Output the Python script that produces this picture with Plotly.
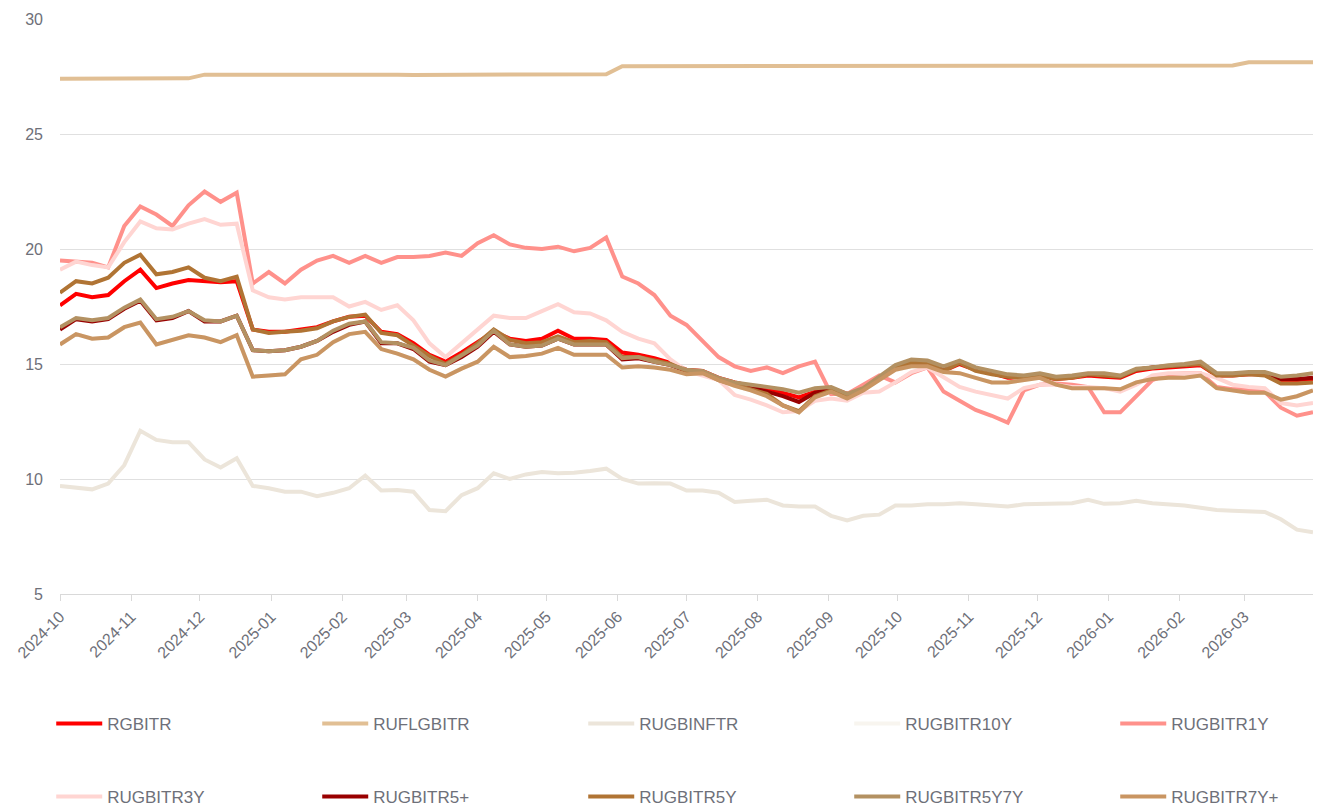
import pandas as pd
import plotly.graph_objects as go

dates = pd.date_range("2024-10-01", periods=79, freq="7D")

RGBITR = [17.55, 18.05, 17.9, 18.0, 18.6, 19.1, 18.3, 18.5, 18.65, 18.6,
          18.55, 18.6, 16.5, 16.4, 16.4, 16.5, 16.6, 16.85, 17.05, 17.1,
          16.4, 16.3, 15.9, 15.4, 15.1, 15.5, 15.95, 16.4, 16.1, 16.0,
          16.1, 16.45, 16.1, 16.1, 16.05, 15.5, 15.4, 15.25, 15.05, 14.75,
          14.7, 14.4, 14.2, 14.05, 13.95, 13.75, 13.55, 13.8, 13.95, 13.7,
          13.9, 14.4, 14.8, 15.0, 15.0, 14.7, 15.0, 14.75, 14.6, 14.4,
          14.4, 14.45, 14.35, 14.4, 14.5, 14.45, 14.4, 14.7, 14.8, 14.85,
          14.9, 14.95, 14.5, 14.5, 14.55, 14.55, 14.25, 14.3, 14.35]

RUFLGBITR = [27.4, 27.4, 27.4, 27.4, 27.4, 27.4, 27.4, 27.4, 27.42, 27.58,
             27.58, 27.6, 27.6, 27.6, 27.6, 27.6, 27.62, 27.62, 27.6, 27.6,
             27.6, 27.58, 27.57, 27.57, 27.57, 27.58, 27.58, 27.58, 27.58, 27.58,
             27.57, 27.57, 27.58, 27.58, 27.6, 27.95, 27.95, 27.95, 27.95, 27.95,
             27.95, 27.96, 27.96, 27.97, 27.97, 27.97, 27.96, 27.96, 27.96, 27.95,
             27.95, 27.95, 27.95, 27.95, 27.95, 27.96, 27.96, 27.96, 27.96, 27.96,
             27.95, 27.95, 27.95, 27.95, 27.95, 27.95, 27.96, 27.96, 27.97, 27.97,
             27.97, 27.97, 27.98, 27.98, 28.12, 28.12, 28.12, 28.12, 28.12]

RUGBINFTR = [9.7, 9.62, 9.55, 9.8, 10.6, 12.1, 11.7, 11.6, 11.6, 10.85,
             10.5, 10.9, 9.7, 9.6, 9.45, 9.45, 9.25, 9.4, 9.6, 10.15,
             9.5, 9.52, 9.45, 8.65, 8.6, 9.3, 9.6, 10.25, 10.0, 10.2,
             10.3, 10.25, 10.27, 10.35, 10.45, 10.0, 9.8, 9.82, 9.8, 9.5,
             9.5, 9.4, 9.0, 9.05, 9.1, 8.85, 8.8, 8.8, 8.4, 8.2,
             8.4, 8.45, 8.85, 8.85, 8.9, 8.9, 8.95, 8.9, 8.85, 8.8,
             8.9, 8.92, 8.95, 8.95, 9.1, 8.92, 8.95, 9.05, 8.95, 8.9,
             8.85, 8.75, 8.65, 8.62, 8.6, 8.57, 8.25, 7.8, 7.68]

RUGBITR10Y = [15.85, 16.3, 16.1, 16.15, 16.6, 16.8, 15.85, 16.05, 16.25, 16.15,
              15.95, 16.25, 14.45, 14.5, 14.55, 15.2, 15.4, 15.95, 16.3, 16.4,
              15.65, 15.45, 15.2, 14.75, 14.45, 14.8, 15.1, 15.75, 15.3, 15.35,
              15.45, 15.7, 15.4, 15.4, 15.4, 14.85, 14.9, 14.85, 14.75, 14.55,
              14.6, 14.3, 14.05, 13.85, 13.6, 13.2, 12.9, 13.55, 13.8, 13.5,
              13.85, 14.3, 14.75, 14.9, 14.9, 14.65, 14.6, 14.4, 14.2, 14.2,
              14.3, 14.4, 14.1, 13.95, 13.95, 13.95, 13.9, 14.2, 14.35, 14.4,
              14.4, 14.5, 13.95, 13.85, 13.75, 13.75, 13.45, 13.6, 13.85]

RUGBITR1Y = [19.5, 19.45, 19.4, 19.2, 21.0, 21.85, 21.5, 21.0, 21.9, 22.5,
             22.05, 22.45, 18.5, 19.0, 18.5, 19.1, 19.5, 19.7, 19.4, 19.7,
             19.4, 19.65, 19.65, 19.7, 19.85, 19.7, 20.25, 20.6, 20.2, 20.05,
             20.0, 20.1, 19.9, 20.05, 20.5, 18.8, 18.5, 18.0, 17.1, 16.7,
             16.0, 15.3, 14.9, 14.7, 14.85, 14.6, 14.9, 15.1, 13.7, 13.7,
             14.1, 14.5, 14.2, 14.6, 14.85, 13.8, 13.4, 13.0, 12.75, 12.45,
             13.85, 14.1, 14.15, 14.1, 14.0, 12.9, 12.9, 13.6, 14.3, 14.55,
             14.6, 14.6, 14.0, 13.9, 13.9, 13.8, 13.1, 12.75, 12.9]

RUGBITR3Y = [19.1, 19.45, 19.3, 19.2, 20.3, 21.2, 20.9, 20.85, 21.1, 21.3,
             21.05, 21.1, 18.2, 17.9, 17.8, 17.9, 17.9, 17.9, 17.5, 17.7,
             17.35, 17.55, 16.9, 15.9, 15.3, 15.9, 16.55, 17.1, 17.0, 17.0,
             17.3, 17.6, 17.25, 17.2, 16.9, 16.4, 16.1, 15.9, 15.2, 14.7,
             14.5, 14.3, 13.65, 13.45, 13.2, 12.9, 12.95, 13.4, 13.5, 13.4,
             13.75, 13.8, 14.2, 14.65, 14.85, 14.4, 14.0, 13.8, 13.65, 13.5,
             13.95, 14.1, 14.1, 14.0, 14.0, 13.95, 13.8, 14.1, 14.5, 14.6,
             14.6, 14.6, 14.4, 14.1, 14.0, 13.95, 13.3, 13.2, 13.3]

RUGBITR5p = [16.5, 16.95, 16.85, 16.95, 17.4, 17.75, 16.9, 17.0, 17.3, 16.85,
             16.85, 17.1, 15.6, 15.55, 15.6, 15.75, 16.0, 16.4, 16.7, 16.85,
             15.9, 15.9, 15.65, 15.1, 14.95, 15.3, 15.75, 16.4, 15.85, 15.75,
             15.8, 16.1, 15.85, 15.85, 15.85, 15.2, 15.25, 15.1, 14.95, 14.7,
             14.65, 14.35, 14.15, 14.0, 13.8, 13.6, 13.35, 13.75, 13.9, 13.65,
             13.9, 14.4, 14.85, 15.05, 15.05, 14.75, 15.05, 14.75, 14.6, 14.45,
             14.45, 14.5, 14.4, 14.45, 14.55, 14.5, 14.45, 14.75, 14.85, 14.9,
             14.95, 15.05, 14.55, 14.55, 14.6, 14.6, 14.35, 14.35, 14.4]

RUGBITR5Y = [18.1, 18.6, 18.5, 18.75, 19.4, 19.75, 18.9, 19.0, 19.2, 18.75,
             18.6, 18.8, 16.5, 16.35, 16.4, 16.45, 16.55, 16.85, 17.05, 17.15,
             16.35, 16.25, 15.8, 15.35, 15.0, 15.4, 15.9, 16.5, 16.05, 15.9,
             15.95, 16.2, 15.95, 16.0, 15.95, 15.3, 15.3, 15.15, 15.0, 14.7,
             14.65, 14.3, 14.1, 13.9, 13.7, 13.2, 12.95, 13.6, 13.85, 13.6,
             13.9, 14.35, 14.8, 15.05, 15.05, 14.7, 15.05, 14.7, 14.55, 14.45,
             14.4, 14.5, 14.35, 14.4, 14.55, 14.5, 14.45, 14.75, 14.85, 14.9,
             14.95, 15.0, 14.5, 14.5, 14.55, 14.5, 14.15, 14.15, 14.2]

RUGBITR5Y7Y = [16.6, 17.0, 16.9, 17.0, 17.45, 17.8, 16.95, 17.05, 17.3, 16.9,
               16.85, 17.1, 15.6, 15.55, 15.6, 15.75, 16.0, 16.45, 16.75, 16.85,
               15.95, 15.9, 15.7, 15.15, 14.95, 15.35, 15.8, 16.45, 15.85, 15.75,
               15.8, 16.1, 15.85, 15.85, 15.85, 15.25, 15.3, 15.1, 14.95, 14.75,
               14.7, 14.4, 14.2, 14.1, 14.0, 13.9, 13.75, 13.95, 14.0, 13.7,
               13.95, 14.45, 14.95, 15.2, 15.15, 14.9, 15.15, 14.85, 14.7, 14.55,
               14.5, 14.6, 14.45, 14.5, 14.6, 14.6, 14.5, 14.8, 14.85, 14.95,
               15.0, 15.1, 14.6, 14.6, 14.65, 14.65, 14.45, 14.5, 14.6]

RUGBITR7Yp = [15.85, 16.3, 16.1, 16.15, 16.6, 16.8, 15.85, 16.05, 16.25, 16.15,
              15.95, 16.25, 14.45, 14.5, 14.55, 15.2, 15.4, 15.95, 16.3, 16.4,
              15.65, 15.45, 15.2, 14.75, 14.45, 14.8, 15.1, 15.75, 15.3, 15.35,
              15.45, 15.7, 15.4, 15.4, 15.4, 14.85, 14.9, 14.85, 14.75, 14.55,
              14.6, 14.3, 14.05, 13.85, 13.6, 13.2, 12.9, 13.55, 13.8, 13.5,
              13.85, 14.3, 14.75, 14.9, 14.9, 14.65, 14.6, 14.4, 14.2, 14.2,
              14.3, 14.4, 14.1, 13.95, 13.95, 13.95, 13.9, 14.2, 14.35, 14.4,
              14.4, 14.5, 13.95, 13.85, 13.75, 13.75, 13.45, 13.6, 13.85]

names = ["RGBITR", "RUFLGBITR", "RUGBINFTR", "RUGBITR10Y", "RUGBITR1Y",
         "RUGBITR3Y", "RUGBITR5+", "RUGBITR5Y", "RUGBITR5Y7Y", "RUGBITR7Y+"]
series = [RGBITR, RUFLGBITR, RUGBINFTR, RUGBITR10Y, RUGBITR1Y,
          RUGBITR3Y, RUGBITR5p, RUGBITR5Y, RUGBITR5Y7Y, RUGBITR7Yp]
colors = ["#ff0000", "#e1bf94", "#ece5da", "#f8f5ef", "#ff918b",
          "#ffd5d2", "#990000", "#b07434", "#b39162", "#c99562"]

font_col = "#6e7079"
plot_w = 1253
col_step = 266
row_y = [-0.2261, -0.3530]

fig = go.Figure()
legends = {}
for i, (n, s, c) in enumerate(zip(names, series, colors)):
    key = "legend" if i == 0 else "legend%d" % (i + 1)
    fig.add_trace(go.Scatter(
        x=dates, y=s, name=n, mode="lines",
        line=dict(color=c, width=4),
        legend=key,
    ))
    col, row = i % 5, i // 5
    legends[key] = dict(
        orientation="h", xanchor="left", yanchor="middle", itemwidth=46,
        x=-0.007 + col * col_step / plot_w, y=row_y[row],
        font=dict(family="Liberation Sans, Arial, sans-serif", size=17, color=font_col),
        bgcolor="rgba(0,0,0,0)",
    )

fig.update_layout(
    width=1322, height=808,
    margin=dict(l=52, r=17, t=11, b=222, autoexpand=False),
    paper_bgcolor="white", plot_bgcolor="white",
    font=dict(family="Liberation Sans, Arial, sans-serif", color=font_col),
    showlegend=True,
    xaxis=dict(
        type="date", range=["2024-10-01", "2026-03-31"],
        tick0="2024-10-01", dtick="M1", tickformat="%Y-%m",
        tickangle=-45, tickfont=dict(size=16, color=font_col),
        showgrid=False, showline=True, linecolor="#d9d9d9", linewidth=1,
        ticks="outside", ticklen=6, tickcolor="#d9d9d9",
        zeroline=False,
    ),
    yaxis=dict(
        range=[5, 30], tick0=5, dtick=5,
        tickfont=dict(size=16, color=font_col),
        showgrid=True, gridcolor="#e0e0e0", gridwidth=1,
        zeroline=False, showline=False, ticklabelstandoff=16,
    ),
    **legends,
)

fig.write_html("out.html")
